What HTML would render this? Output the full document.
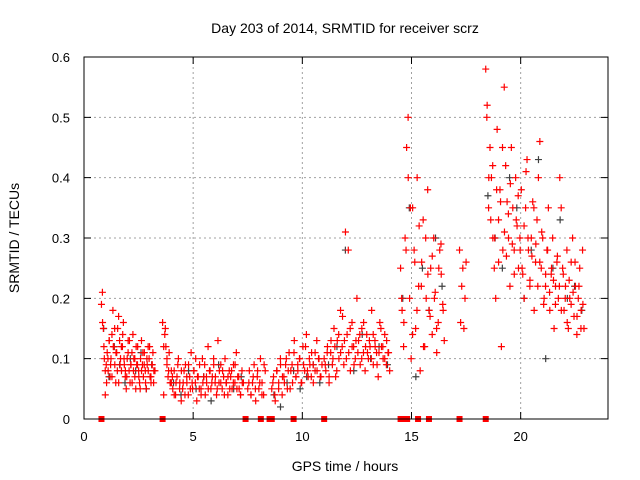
<!DOCTYPE html>
<html><head><meta charset="utf-8"><style>
body{margin:0;background:#fff}
svg{display:block;font-family:"Liberation Sans",sans-serif}
</style></head><body>
<svg id="chart" width="640" height="480" viewBox="0 0 640 480" xmlns="http://www.w3.org/2000/svg">
<rect width="640" height="480" fill="#fff"/>
<g id="grid"></g>
<g id="gray"></g>
<g id="red"></g>
<g id="axes"></g>
<text x="345" y="33" font-size="14" text-anchor="middle">Day 203 of 2014, SRMTID for receiver scrz</text>
<text x="345" y="471" font-size="14" text-anchor="middle">GPS time / hours</text>
<text x="19" y="238" font-size="14" text-anchor="middle" transform="rotate(-90 19 238)">SRMTID / TECUs</text>
</svg>
<script>
const xTicks=[0,5,10,15,20];
const yTicks=[0,0.1,0.2,0.3,0.4,0.5,0.6];
const yTickLabels=["0","0.1","0.2","0.3","0.4","0.5","0.6"];
// red clusters: [start hour, end hour], values in hundredths of TECU
const redSpans=[[0.8,3.2],[3.6,4.0],[4.0,7.3],[7.5,8.3],[8.6,10.9],[11,14],[14.5,16.5],[17.2,17.5],[18.4,22.9]];
const redVals=[
[19,21,15,10,4,9,11,8,13,7,10,14,18,12,9,6,11,15,17,13,10,8,12,16,9,7,5,10,13,8,6,9,11,14,10,7,5,9,12,8,6,10,13,9,7,11,8,5,9,12,10,7,6,9,11,8],
[16,4,14,12,9,7,11,6,8],
[6,5,8,4,7,10,6,3,5,8,9,6,4,7,11,5,8,6,3,7,9,5,10,7,4,6,12,8,5,7,9,6,4,13,8,6,5,7,10,6,4,8,7,5,9,6,11,7,5,4,8,6],
[5,8,4,6,9,3,7,5,10,6,4,8],
[5,7,3,8,6,10,4,7,9,5,11,8,6,13,7,9,10,6,12,8,14,7,9,11,6,8,13,10,7,9],
[10,8,12,6,11,9,15,7,13,10,18,12,9,31,14,11,8,16,12,10,20,13,9,15,11,8,14,10,12,18,9,13,11,7,16,12,10,14,9,11,8],
[25,18,12,30,45,50,20,10,35,28,15,40,22,8,26,33,12,20,38,18,25,14,30,21,11,16,28,24,19,13],
[28,16,22,25,15,20,26],
[58,52,35,45,40,30,25,20,48,33,38,12,28,55,42,36,30,22,45,35,28,40,32,25,30,38,24,20,35,43,28,22,30,36,18,26,33,40,46,25,30,20,22,28,35,18,24,30,15,22,26,20,40,35,25,18,22,28,15,20,26,30,17,22,14,20,25,18,28,15]
];
const redSpans2=[[0.85,3.25],[3.65,3.95],[4.05,7.25],[7.55,8.25],[8.65,10.85],[11.05,13.95],[14.55,16.45],[18.45,22.85]];
const redVals2=[
[16,12,8,6,10,13,9,7,12,15,11,8,6,9,12,14,10,8,7,11,13,9,6,8,10,12,9,7,5,8,11,9,6,10,8,12,7,9,6,8],
[12,15,10,8,6],
[7,4,6,9,5,8,6,4,7,9,5,6,8,10,7,5,4,6,9,7,5,8,6,10,7,5,6,9,8,4,6,7,5,8,6,9,5,7,4,6],
[6,4,7,5,8,6,4,9],
[6,4,8,5,9,7,6,10,8,5,9,11,7,8,10,6,9,12,8,10,7,9,11,8,10,7],
[9,11,7,13,10,12,8,14,11,17,13,10,28,15,12,9,13,11,14,10,16,12,11,13,10,14,12,9,11,15,12,10,13,11],
[20,16,28,40,35,14,26,18,32,22,12,30,24,17,27,20,15,25,29,18],
[50,40,33,42,30,38,26,36,45,31,27,34,39,29,24,33,37,28,25,32,41,30,23,27,35,29,22,26,31,19,24,28,21,25,23,19,27,22,18,24,20,16,23,19,21,26,17,22,15,19]
];
const graySpans=[[0.9,3.1],[4.1,7.2],[8.7,10.8],[11.2,13.9],[14.6,16.4],[18.5,22.8]];
const grayVals=[
[15,7,12,9,6,10,8,11,5,9],
[6,4,8,5,7,3,9,6,5,7],
[4,2,6,8,5,7,9,6],
[9,12,28,8,14,10,12,9],
[20,35,7,25,18,30,22],
[37,30,25,40,35,20,28,43,10,25,33,20,22,18]
];
const zeroTimes=[0.8,3.6,7.4,8.1,8.5,8.6,9.6,11.0,14.5,14.6,14.7,14.8,15.3,15.8,17.2,18.4];

const X0=84,X1=608,Y0=419,Y1=57;
const xs=t=>X0+t/24*(X1-X0);
const ys=v=>Y0-v/0.6*(Y0-Y1);
const NS="http://www.w3.org/2000/svg";
function mk(tag,attrs,parent){const e=document.createElementNS(NS,tag);for(const k in attrs)e.setAttribute(k,attrs[k]);parent.appendChild(e);return e;}
const grid=document.getElementById('grid'),axes=document.getElementById('axes');
xTicks.forEach(t=>{
  const x=xs(t);
  if(t>0){const g=mk('line',{x1:x,x2:x,y1:Y0,y2:Y1,stroke:'#a0a0a0','stroke-dasharray':'2,3'},grid);
  
  }
  const tk=mk('path',{d:`M${x},${Y0}v-7M${x},${Y1}v7`,stroke:'#000'},axes);
  
  
  const l=mk('text',{x:x,y:Y0+22,'font-size':13,'text-anchor':'middle'},axes);l.textContent=t;
  
  
});
yTicks.forEach((v,i)=>{
  const y=ys(v);
  if(i>0&&i<yTicks.length-1){const g=mk('line',{x1:X0,x2:X1,y1:y,y2:y,stroke:'#a0a0a0','stroke-dasharray':'2,3'},grid);
  
  }
  const tk=mk('path',{d:`M${X0},${y}h7M${X1},${y}h-7`,stroke:'#000'},axes);
  
  
  const l=mk('text',{x:X0-14,y:y+5,'font-size':13,'text-anchor':'end'},axes);l.textContent=yTickLabels[i];
  
  
});
const frame=mk('rect',{x:X0,y:Y1,width:X1-X0,height:Y0-Y1,fill:'none',stroke:'#000','stroke-width':1},axes);



function plus(g,t,v,col){
  const x=xs(t),y=ys(v);
  const p=mk('path',{d:`M${x-3.5},${y}h7M${x},${y-3.5}v7`,stroke:col,'stroke-width':1.2},g);
  
  
}
function drawSeries(id,spans,vals,col){
  const g=document.getElementById(id);
  spans.forEach((s,i)=>{
    const arr=vals[i],n=arr.length;
    arr.forEach((v,j)=>plus(g,s[0]+(s[1]-s[0])*(n>1?j/(n-1):0),v/100,col));
  });
}
drawSeries('gray',graySpans,grayVals,'#404040');
drawSeries('red',redSpans,redVals,'#ff0000');
drawSeries('red',redSpans2,redVals2,'#ff0000');
const rg=document.getElementById('red');
zeroTimes.forEach(t=>{
  const r=mk('rect',{x:xs(t)-3,y:Y0-3,width:6,height:6,fill:'#ff0000'},rg);
  
  
});
</script>
</body></html>
